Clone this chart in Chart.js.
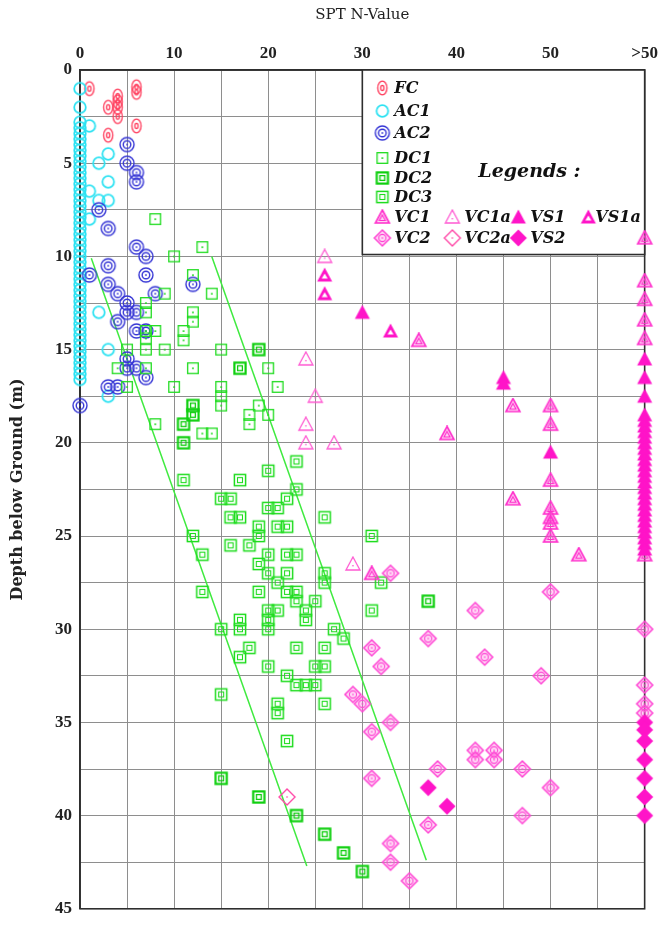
<!DOCTYPE html>
<html>
<head>
<meta charset="utf-8">
<script src="https://cdn.jsdelivr.net/npm/chart.js@4.4.1/dist/chart.umd.min.js"></script>
<style>
  html, body { margin: 0; padding: 0; background: #ffffff; }
  #wrap { width: 664px; height: 927px; }
</style>
</head>
<body>
<div id="wrap"><canvas id="c" width="664" height="927"></canvas></div>
<script>
// ---------------- DATA ----------------
const xTickLabels = ['0', '10', '20', '30', '40', '50', '>50'];
const yTickLabels = ['0', '5', '10', '15', '20', '25', '30', '35', '40', '45'];
const xTitle = 'SPT N-Value';
const yTitle = 'Depth below Ground (m)';
const legendTitle = 'Legends :';

// each point: [N-value, depth]  (N = 60 means ">50")
const FC = [[1,1],[6,0.9],[6,1.2],[4,1.4],[4,1.7],[4,2],[4,2.5],[3,2],[6,3],[3,3.5]];

const AC1 = [[0,1],[0,2],[1,3],[3,4.5],[2,5],[3,6],[1,6.5],[2,7],[3,7],[1,8],[2,13],[3,15],[3,17.5],
  [0,2.8],[0,3.1],[0,3.4],[0,3.7],[0,4.0],[0,4.3],[0,4.6],[0,4.9],[0,5.2],[0,5.5],[0,5.8],[0,6.1],
  [0,6.4],[0,6.7],[0,7.0],[0,7.3],[0,7.6],[0,7.9],[0,8.2],[0,8.5],[0,8.8],[0,9.1],[0,9.4],[0,9.7],
  [0,10.0],[0,10.3],[0,10.6],[0,10.9],[0,11.2],[0,11.5],[0,11.8],[0,12.1],[0,12.4],[0,12.7],
  [0,13.0],[0,13.3],[0,13.6],[0,13.9],[0,14.2],[0,14.5],[0,14.8],[0,15.1],[0,15.4],[0,15.7],
  [0,16.0],[0,16.3],[0,16.6]];

const AC2 = [[5,4],[5,5],[6,5.5],[6,6],[2,7.5],[3,8.5],[6,9.5],[7,10],[3,10.5],[1,11],[7,11],[3,11.5],
  [12,11.5],[4,12],[8,12],[5,12.5],[5,13],[6,13],[4,13.5],[6,14],[7,14],[5,15.5],[5,16],[6,16],
  [7,16.5],[3,17],[4,17],[0,18]];

const DC1 = [[8,8],[13,9.5],[10,10],[12,11],[9,12],[14,12],[7,12.5],[7,13],[12,13],[12,13.5],[7,14],
  [7,14.4],[8,14],[11,14],[11,14.5],[5,15],[7,15],[9,15],[15,15],[4,16],[7,16],[12,16],[20,16],
  [5,17],[10,17],[15,17],[15,17.5],[15,18],[21,17],[19,18],[18,18.5],[18,19],[20,18.5],[8,19],
  [13,19.5],[14,19.5]];

const DC2 = [[19,15],[17,16],[12,18],[12,18.5],[11,19],[11,20],[15,38],[19,39],[23,40],[26,41],
  [28,42],[30,43],[37,28.5]];

const DC3 = [[23,21],[20,21.5],[11,22],[17,22],[23,22.5],[15,23],[16,23],[22,23],[20,23.5],[21,23.5],
  [16,24],[17,24],[26,24],[19,24.5],[21,24.5],[22,24.5],[12,25],[19,25],[31,25],[16,25.5],[18,25.5],
  [13,26],[20,26],[22,26],[23,26],[19,26.5],[20,27],[22,27],[26,27],[26,27.5],[21,27.5],[32,27.5],
  [13,28],[19,28],[22,28],[23,28],[23,28.5],[25,28.5],[20,29],[21,29],[24,29],[24,29.5],[31,29],
  [17,29.5],[17,30],[20,29.5],[20,30],[15,30],[27,30],[28,30.5],[18,31],[23,31],[26,31],[17,31.5],
  [20,32],[25,32],[26,32],[22,32.5],[23,33],[24,33],[25,33],[15,33.5],[21,34],[21,34.5],[26,34],
  [22,36]];

const VC1 = [[36,14.5],[46,18],[50,18],[50,19],[39,19.5],[50,22],[46,23],[50,23.5],[50,24],[50,24.3],
  [50,25],[53,26],[31,27],[60,9],[60,11.3],[60,12.3],[60,13.4],[60,14.4],[60,26]];

const VC1a = [[26,10],[24,15.5],[25,17.5],[24,19],[24,20],[27,20],[29,26.5]];

const VS1 = [[30,13],[45,16.5],[45,16.8],[50,20.5],[60,15.5],[60,16.5],[60,17.5],[60,18.5],[60,18.8],
  [60,19.1],[60,19.4],[60,19.7],[60,20.0],[60,20.3],[60,20.6],[60,20.9],[60,21.2],[60,21.5],
  [60,21.8],[60,22.1],[60,22.4],[60,22.7],[60,23.0],[60,23.3],[60,23.6],[60,23.9],[60,24.2],
  [60,24.5],[60,24.8],[60,25.1],[60,25.4],[60,25.7]];

const VS1a = [[26,11],[26,12],[33,14]];

const VC2 = [[33,27],[50,28],[42,29],[60,30],[37,30.5],[31,31],[43,31.5],[32,32],[49,32.5],[60,33],
  [29,33.5],[30,34],[60,34],[60,34.5],[33,35],[31,35.5],[42,36.5],[44,36.5],[42,37],[44,37],[38,37.5],
  [47,37.5],[31,38],[50,38.5],[47,40],[37,40.5],[33,41.5],[33,42.5],[35,43.5]];

const VC2a = [[22,39]];

const VS2 = [[37,38.5],[39,39.5],[60,35],[60,35.4],[60,36],[60,37],[60,38],[60,39],[60,40]];

// two trend lines of the DC soils
const trendLeft = [[1.2,10.1],[24.1,42.7]];
const trendRight = [[14,10],[36.8,42.4]];

// ---------------- SYMBOLS ----------------
function mk(w, h, draw) {
  const c = document.createElement('canvas');
  c.width = w; c.height = h;
  const g = c.getContext('2d');
  draw(g, w / 2, h / 2);
  return c;
}
const RED = '#ff3a5a', CYAN = '#2ee2f2', BLUE = '#3535d5', GREEN = '#1fdc1f', MAG = '#ff14c8', PINK = '#ff5ad2';

const sym = {
  FC: mk(14, 18, (g, cx, cy) => {
    g.strokeStyle = RED; g.lineWidth = 1.3;
    g.beginPath(); g.ellipse(cx, cy, 4.6, 6.8, 0, 0, Math.PI * 2); g.stroke();
    g.beginPath(); g.ellipse(cx, cy, 1.6, 2.6, 0, 0, Math.PI * 2); g.stroke();
  }),
  AC1: mk(16, 16, (g, cx, cy) => {
    g.strokeStyle = CYAN; g.lineWidth = 1.8;
    g.beginPath(); g.arc(cx, cy, 5.8, 0, Math.PI * 2); g.stroke();
  }),
  AC2: mk(18, 18, (g, cx, cy) => {
    g.strokeStyle = BLUE; g.lineWidth = 1.4;
    g.beginPath(); g.arc(cx, cy, 7, 0, Math.PI * 2); g.stroke();
    g.beginPath(); g.arc(cx, cy, 3.8, 0, Math.PI * 2); g.stroke();
    g.fillStyle = BLUE; g.fillRect(cx - 0.8, cy - 0.8, 1.6, 1.6);
  }),
  DC1: mk(14, 14, (g, cx, cy) => {
    g.strokeStyle = GREEN; g.lineWidth = 1.3;
    g.strokeRect(cx - 5.3, cy - 5.3, 10.6, 10.6);
    g.fillStyle = GREEN; g.fillRect(cx - 1, cy - 0.6, 2, 1.4);
  }),
  DC2: mk(16, 16, (g, cx, cy) => {
    g.strokeStyle = '#0fcf0f'; g.lineWidth = 2.2;
    g.strokeRect(cx - 5.6, cy - 5.6, 11.2, 11.2);
    g.lineWidth = 1.3; g.strokeRect(cx - 2.4, cy - 2.4, 4.8, 4.8);
  }),
  DC3: mk(16, 16, (g, cx, cy) => {
    g.strokeStyle = GREEN; g.lineWidth = 1.5;
    g.strokeRect(cx - 5.6, cy - 5.6, 11.2, 11.2);
    g.lineWidth = 1.1; g.strokeRect(cx - 2.5, cy - 2.5, 5, 5);
  }),
  VC1: mk(18, 16, (g, cx, cy) => {
    g.fillStyle = 'rgba(255,120,220,0.35)';
    g.strokeStyle = '#ff2ecc'; g.lineWidth = 1.6;
    g.beginPath(); g.moveTo(cx, cy - 7); g.lineTo(cx + 7, cy + 6); g.lineTo(cx - 7, cy + 6); g.closePath(); g.fill(); g.stroke();
    g.lineWidth = 1.1;
    g.beginPath(); g.moveTo(cx, cy - 2); g.lineTo(cx + 3, cy + 3.5); g.lineTo(cx - 3, cy + 3.5); g.closePath(); g.stroke();
  }),
  VC1a: mk(18, 16, (g, cx, cy) => {
    g.strokeStyle = PINK; g.lineWidth = 1.3;
    g.beginPath(); g.moveTo(cx, cy - 7); g.lineTo(cx + 7, cy + 6); g.lineTo(cx - 7, cy + 6); g.closePath(); g.stroke();
    g.fillStyle = PINK; g.fillRect(cx - 0.7, cy + 1, 1.4, 1.4);
  }),
  VS1: mk(18, 16, (g, cx, cy) => {
    g.fillStyle = MAG;
    g.beginPath(); g.moveTo(cx, cy - 7.5); g.lineTo(cx + 7.5, cy + 6.5); g.lineTo(cx - 7.5, cy + 6.5); g.closePath(); g.fill();
  }),
  VS1a: mk(18, 16, (g, cx, cy) => {
    g.fillStyle = MAG;
    g.beginPath(); g.moveTo(cx, cy - 7.5); g.lineTo(cx + 7.5, cy + 6.5); g.lineTo(cx - 7.5, cy + 6.5); g.closePath(); g.fill();
    g.fillStyle = '#ffffff';
    g.beginPath(); g.moveTo(cx, cy - 1.5); g.lineTo(cx + 3, cy + 3.5); g.lineTo(cx - 3, cy + 3.5); g.closePath(); g.fill();
  }),
  VC2: mk(20, 20, (g, cx, cy) => {
    g.fillStyle = 'rgba(255,140,225,0.35)';
    g.strokeStyle = '#ff44d4'; g.lineWidth = 1.5;
    g.beginPath(); g.moveTo(cx, cy - 8); g.lineTo(cx + 8, cy); g.lineTo(cx, cy + 8); g.lineTo(cx - 8, cy); g.closePath(); g.fill(); g.stroke();
    g.lineWidth = 1.1;
    g.beginPath(); g.arc(cx, cy, 3.6, 0, Math.PI * 2); g.stroke();
    g.fillStyle = '#ff44d4'; g.fillRect(cx - 0.7, cy - 0.7, 1.4, 1.4);
  }),
  VC2a: mk(20, 20, (g, cx, cy) => {
    g.strokeStyle = '#ff4aa8'; g.lineWidth = 1.4;
    g.beginPath(); g.moveTo(cx, cy - 8); g.lineTo(cx + 8, cy); g.lineTo(cx, cy + 8); g.lineTo(cx - 8, cy); g.closePath(); g.stroke();
    g.fillStyle = '#ff4aa8'; g.fillRect(cx - 0.7, cy - 0.7, 1.4, 1.4);
  }),
  VS2: mk(20, 20, (g, cx, cy) => {
    g.fillStyle = MAG;
    g.beginPath(); g.moveTo(cx, cy - 8.5); g.lineTo(cx + 8.5, cy); g.lineTo(cx, cy + 8.5); g.lineTo(cx - 8.5, cy); g.closePath(); g.fill();
  })
};

const toXY = arr => arr.map(p => ({ x: p[0], y: p[1] }));
const series = { FC, AC1, AC2, DC1, DC2, DC3, VC1, VC1a, VS1, VS1a, VC2, VC2a, VS2 };

const datasets = [
  { type: 'line', label: 'trendLeft', data: toXY(trendLeft), borderColor: '#3fea3f', borderWidth: 1.5,
    pointRadius: 0, fill: false, clip: false, order: 20 },
  { type: 'line', label: 'trendRight', data: toXY(trendRight), borderColor: '#3fea3f', borderWidth: 1.5,
    pointRadius: 0, fill: false, clip: false, order: 20 }
];
Object.keys(series).forEach((k, i) => {
  datasets.push({ type: 'scatter', label: k, data: toXY(series[k]), pointStyle: sym[k],
    pointRadius: 6, pointHoverRadius: 6, clip: false, order: 10 - i * 0.1 });
});

// ---------------- PLUGINS ----------------
const frameAndLegend = {
  id: 'frameAndLegend',
  beforeDatasetsDraw(chart) {
    const { ctx, chartArea: a, scales } = chart;
    ctx.save();
    ctx.strokeStyle = '#2e2e2e'; ctx.lineWidth = 1.6;
    ctx.strokeRect(a.left, a.top, a.right - a.left, a.bottom - a.top);
    // legend box
    const L = scales.x.getPixelForValue(30);
    const T = a.top;
    const R = a.right;
    const B = scales.y.getPixelForValue(9.9);
    ctx.fillStyle = '#ffffff';
    ctx.fillRect(L, T, R - L, B - T);
    ctx.strokeStyle = '#2e2e2e'; ctx.lineWidth = 1.6;
    ctx.strokeRect(L, T, R - L, B - T);
    const items = [
      ['FC', 20, 18], ['AC1', 20, 41], ['AC2', 20, 63], ['DC1', 20, 88], ['DC2', 20, 108], ['DC3', 20, 127],
      ['VC1', 20, 147], ['VC1a', 90, 147], ['VS1', 156, 147], ['VS1a', 226, 147],
      ['VC2', 20, 168], ['VC2a', 90, 168], ['VS2', 156, 168]
    ];
    ctx.font = 'italic bold 16px "DejaVu Serif"';
    ctx.fillStyle = '#111';
    ctx.textBaseline = 'middle';
    ctx.textAlign = 'left';
    items.forEach(([k, dx, dy]) => {
      const s = sym[k];
      ctx.drawImage(s, L + dx - s.width / 2, T + dy - s.height / 2);
      const gap = k === 'VS1a' ? 7 : 12;
      ctx.fillText(k, L + dx + gap, T + dy + 1);
    });
    ctx.font = 'italic bold 19px "DejaVu Serif"';
    ctx.fillText(legendTitle, L + 116, T + 102);
    ctx.restore();
  }
};

// ---------------- CHART ----------------
new Chart(document.getElementById('c'), {
  data: { datasets },
  options: {
    responsive: false,
    devicePixelRatio: 1,
    animation: false,
    layout: { padding: { left: 0, right: 16, top: 0, bottom: 15 } },
    plugins: { legend: { display: false }, tooltip: { enabled: false } },
    scales: {
      x: {
        type: 'linear', position: 'top', min: 0, max: 60,
        afterFit: s => { s.height = 70; },
        ticks: {
          stepSize: 5, autoSkip: false, maxRotation: 0, padding: 6, color: '#222',
          font: { family: '"Liberation Serif"', size: 17, weight: 'bold' },
          callback: v => (v % 10 === 0 ? xTickLabels[v / 10] : '')
        },
        grid: { color: '#8e8e8e', lineWidth: 1, drawTicks: false },
        border: { display: true, color: '#2e2e2e', width: 1.6 },
        title: { display: true, text: xTitle, color: '#222', padding: { top: 6, bottom: 0 },
          font: { family: '"DejaVu Serif"', size: 15 } }
      },
      y: {
        type: 'linear', reverse: true, min: 0, max: 45,
        afterFit: s => { s.width = 80; },
        ticks: {
          stepSize: 2.5, autoSkip: false, padding: 8, color: '#222',
          font: { family: '"Liberation Serif"', size: 17, weight: 'bold' },
          callback: v => (v % 5 === 0 ? yTickLabels[v / 5] : '')
        },
        grid: { color: '#8e8e8e', lineWidth: 1, drawTicks: false },
        border: { display: true, color: '#2e2e2e', width: 1.6 },
        title: { display: true, text: yTitle, color: '#222', padding: { top: 8, bottom: 0 },
          font: { family: '"DejaVu Serif"', size: 16, weight: 'bold' } }
      }
    }
  },
  plugins: [frameAndLegend]
});
</script>
</body>
</html>
